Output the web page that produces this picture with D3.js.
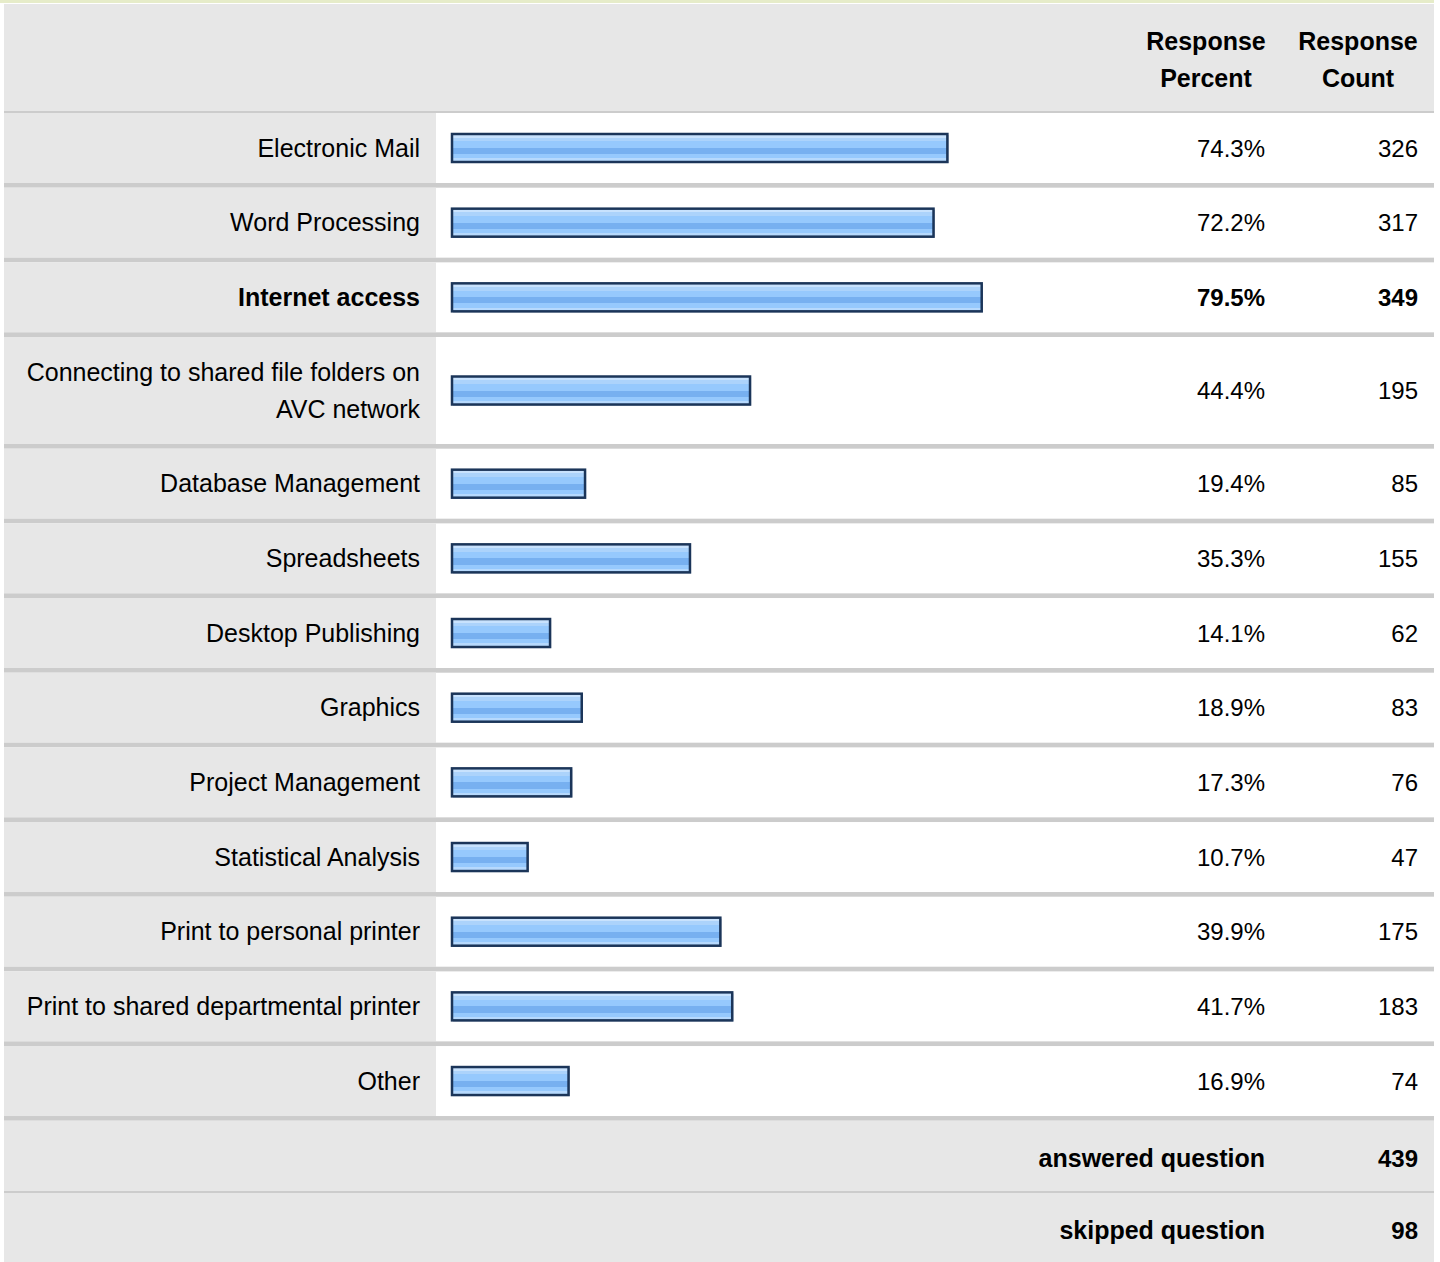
<html>
<head>
<script src="https://d3js.org/d3.v7.min.js"></script>
<style>
  body { margin: 0; background: #fff; }
  text { font-family: "Liberation Sans", Arial, sans-serif; fill: #000; }
</style>
</head>
<body>
<svg id="chart" width="1440" height="1262"></svg>
<script>
// survey answers
const labels = ["Electronic Mail", "Word Processing", "Internet access",
                "Connecting to shared file folders on\nAVC network", "Database Management",
                "Spreadsheets", "Desktop Publishing", "Graphics", "Project Management",
                "Statistical Analysis", "Print to personal printer",
                "Print to shared departmental printer", "Other"];
const percents = [74.3, 72.2, 79.5, 44.4, 19.4, 35.3, 14.1, 18.9, 17.3, 10.7, 39.9, 41.7, 16.9];
const counts = [326, 317, 349, 195, 85, 155, 62, 83, 76, 47, 175, 183, 74];
const headers = [["Response", "Percent"], ["Response", "Count"]];
const summaryLabels = ["answered question", "skipped question"];
const summaryCounts = [439, 98];
const boldLabel = "Internet access";

const svg = d3.select("svg#chart");
const left = 4, right = 1434;
const labelCol = 436;
const gray = "#e7e7e7", sepColor = "#cccccc";
const rowH = 70, lineH = 37, sepH = 4.67;

// bar gradient
const defs = svg.append("defs");
const grad = defs.append("linearGradient").attr("id", "barGrad")
    .attr("x1", 0).attr("y1", 0).attr("x2", 0).attr("y2", 1);
[[0, "#c8e2fd"], [0.13, "#c8e2fd"], [0.13, "#acd3fb"], [0.26, "#acd3fb"], [0.26, "#96c9fd"],
 [0.5, "#96c9fd"], [0.5, "#77b0f0"], [0.72, "#77b0f0"], [0.72, "#96c9fd"], [0.87, "#96c9fd"],
 [0.87, "#b6d9fd"], [1, "#b6d9fd"]].forEach(s => {
    grad.append("stop").attr("offset", s[0]).attr("stop-color", s[1]);
});

// top rule
svg.append("rect").attr("x", 0).attr("y", 0).attr("width", right).attr("height", 3)
    .attr("fill", "#e6ecc9");

// header
svg.append("rect").attr("x", left).attr("y", 4).attr("width", right - left).attr("height", 107)
    .attr("fill", gray);
svg.append("rect").attr("x", left).attr("y", 111).attr("width", right - left).attr("height", 2)
    .attr("fill", sepColor);
const headerX = [1206, 1358];
headers.forEach((h, i) => {
    h.forEach((t, j) => {
        svg.append("text").attr("x", headerX[i]).attr("y", 50 + j * 37)
            .attr("text-anchor", "middle").attr("font-size", 25).attr("font-weight", "bold")
            .text(t);
    });
});

// rows
const rows = labels.map((l, i) => ({
    label: l, lines: l.split("\n"), pct: percents[i], count: counts[i]
}));
let y = 113;
rows.forEach(r => {
    r.top = y;
    r.h = rowH + lineH * (r.lines.length - 1);
    r.mid = y + r.h / 2;
    y += r.h + sepH;
});

const x = d3.scaleLinear().domain([0, 100]).range([457, 1117]);

const g = svg.append("g");
const row = g.selectAll("g.row").data(rows).join("g").attr("class", "row");

row.append("rect").attr("x", left).attr("y", d => d.top).attr("width", labelCol - left)
    .attr("height", d => d.h).attr("fill", gray);
row.append("rect").attr("x", left).attr("y", d => d.top + d.h).attr("width", right - left)
    .attr("height", sepH).attr("fill", sepColor);

row.each(function(d) {
    const sel = d3.select(this);
    const w = d.label === boldLabel ? "bold" : "normal";
    d.lines.forEach((t, j) => {
        sel.append("text").attr("x", 420)
            .attr("y", d.mid + 8.5 + (j - (d.lines.length - 1) / 2) * lineH)
            .attr("text-anchor", "end").attr("font-size", 25).attr("font-weight", w)
            .text(t);
    });
    sel.append("text").attr("x", 1265).attr("y", d.mid + 8.5)
        .attr("text-anchor", "end").attr("font-size", 24).attr("font-weight", w)
        .text(d3.format(".1f")(d.pct) + "%");
    sel.append("text").attr("x", 1418).attr("y", d.mid + 8.5)
        .attr("text-anchor", "end").attr("font-size", 24).attr("font-weight", w)
        .text(d.count);
});

// bars
const barH = 28;
row.append("rect").attr("x", x(0) - 5 + 1).attr("y", d => d.mid - barH / 2 + 1)
    .attr("width", d => x(d.pct) - x(0) + 5).attr("height", barH)
    .attr("fill", "#8b9bb3");
row.append("rect").attr("x", x(0) - 5).attr("y", d => d.mid - barH / 2)
    .attr("width", d => x(d.pct) - x(0) + 5).attr("height", barH)
    .attr("fill", "url(#barGrad)").attr("stroke", "#1b3559").attr("stroke-width", 2.5);

// summary rows
const sumTop = y;
const sumH = [70.3, 69];
let sy = sumTop;
summaryLabels.forEach((l, i) => {
    svg.append("rect").attr("x", left).attr("y", sy).attr("width", right - left)
        .attr("height", sumH[i]).attr("fill", gray);
    const mid = sy + sumH[i] / 2;
    svg.append("text").attr("x", 1265).attr("y", mid + 11).attr("text-anchor", "end")
        .attr("font-size", 25).attr("font-weight", "bold").text(l);
    svg.append("text").attr("x", 1418).attr("y", mid + 11).attr("text-anchor", "end")
        .attr("font-size", 24).attr("font-weight", "bold").text(summaryCounts[i]);
    sy += sumH[i];
    if (i === 0) {
        svg.append("rect").attr("x", left).attr("y", sy).attr("width", right - left)
            .attr("height", 2).attr("fill", sepColor);
        sy += 2;
    }
});
</script>
</body>
</html>
